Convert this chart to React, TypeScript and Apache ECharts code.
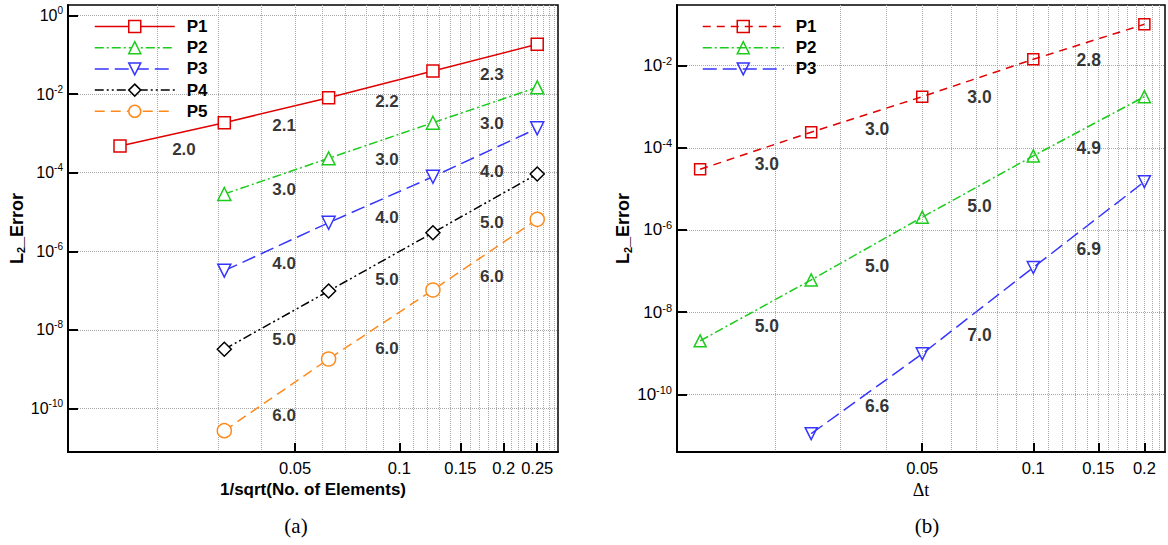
import React, { useEffect, useRef } from "react";
import * as echarts from "echarts";

const L = (v: number) => Math.log10(v);

// ---------------- panel (a) ----------------
const aX = [1 / 64, 1 / 32, 1 / 16, 1 / 8, 1 / 4];
const aP1 = [4.8e-4, 1.88e-3, 8.15e-3, 3.9e-2, 0.187];
const aP2 = [2.87e-5, 2.33e-4, 1.88e-3, 1.5e-2];
const aP3 = [3.2e-7, 5.33e-6, 7.9e-5, 1.35e-3];
const aP4 = [3.18e-9, 9.7e-8, 2.97e-6, 9.3e-5];
const aP5 = [2.69e-11, 1.8e-9, 1.03e-7, 6.5e-6];
const aLabelX = [0.0239, 0.0465, 0.0921, 0.185];
const aP1Slope = ["2.0", "2.1", "2.2", "2.3"];
const aP2Slope = ["3.0", "3.0", "3.0"];
const aP3Slope = ["4.0", "4.0", "4.0"];
const aP4Slope = ["5.0", "5.0", "5.0"];
const aP5Slope = ["6.0", "6.0", "6.0"];
const aP1SlopeY = [3.95e-4, 1.64e-3, 6.46e-3, 3.27e-2];
const aP2SlopeY = [3.8e-5, 2.2e-4, 1.75e-3];
const aP3SlopeY = [4.93e-7, 7.33e-6, 1.06e-4];
const aP4SlopeY = [5.71e-9, 1.93e-7, 5.33e-6];
const aP5SlopeY = [6.37e-11, 3.37e-9, 2.34e-7];
const aXRange = [0.01106, 0.287];
const aYRange = [7.7e-12, 1.873];
const aXMajor = [0.05, 0.1, 0.15, 0.2, 0.25];
const aXMinor = [0.02, 0.03, 0.04, 0.05, 0.06, 0.07, 0.08, 0.09, 0.1, 0.11, 0.12, 0.13, 0.14, 0.15, 0.16, 0.17, 0.18, 0.19, 0.2, 0.21, 0.22, 0.23, 0.24, 0.25, 0.26, 0.27, 0.28];
const aYExp = [-10, -8, -6, -4, -2, 0];

// ---------------- panel (b) ----------------
const bX = [0.0125, 0.025, 0.05, 0.1, 0.2];
const bP1 = [3.0e-5, 2.4e-4, 1.76e-3, 1.43e-2, 0.1016];
const bP2 = [2.0e-9, 6.1e-8, 2.05e-6, 6.35e-5, 1.76e-3];
const bP3 = [1.1e-11, 9.7e-10, 1.22e-7, 1.5e-5];
const bLabelX = [0.01895, 0.03774, 0.07145, 0.1413];
const bP1Slope = ["3.0", "3.0", "3.0", "2.8"];
const bP2Slope = ["5.0", "5.0", "5.0", "4.9"];
const bP3Slope = ["6.6", "7.0", "6.9"];
const bP1SlopeY = [3.99e-5, 2.84e-4, 1.76e-3, 1.38e-2];
const bP2SlopeY = [4.65e-9, 1.34e-7, 3.85e-6, 1.01e-4];
const bP3SlopeY = [5.05e-11, 2.81e-9, 3.41e-7];
const bXRange = [0.01082, 0.2275];
const bYRange = [3.94e-12, 0.2999];
const bXMajor = [0.05, 0.1, 0.15, 0.2];
const bXMinor = [0.02, 0.03, 0.04, 0.05, 0.06, 0.07, 0.08, 0.09, 0.1, 0.11, 0.12, 0.13, 0.14, 0.15, 0.16, 0.17, 0.18, 0.19, 0.2, 0.21, 0.22];
const bYExp = [-10, -8, -6, -4, -2];

const names = ["P1", "P2", "P3", "P4", "P5"];

const SANS = "'Liberation Sans', Arial, Helvetica, sans-serif";
const SERIF = "'Liberation Serif', 'Times New Roman', serif";

const RED = "#e00000";
const GREEN = "#1ccc1c";
const BLUE = "#3535ff";
const BLACK = "#000000";
const ORANGE = "#ff8a1c";

function xAxes(grid: number, range: number[], major: number[], minor: number[], name: string, nameStyle: any, nameGap: number) {
  return [
    {
      type: "value",
      gridIndex: grid,
      min: L(range[0]),
      max: L(range[1]),
      name,
      nameLocation: "middle",
      nameGap,
      nameTextStyle: nameStyle,
      axisLine: { show: true, onZero: false, lineStyle: { color: "#000", width: 2 } },
      axisTick: { show: true, inside: true, length: 9, customValues: major.map(L), lineStyle: { color: "#000", width: 2 } },
      axisLabel: {
        show: true,
        customValues: major.map(L),
        margin: 7,
        color: "#000",
        fontSize: 16.5,
        fontFamily: SANS,
        formatter: (v: number) => String(+Math.pow(10, v).toPrecision(2)),
      },
      splitLine: { show: false },
    },
    {
      type: "value",
      gridIndex: grid,
      min: L(range[0]),
      max: L(range[1]),
      position: "bottom",
      axisLine: { show: false, onZero: false },
      axisTick: { show: false, customValues: minor.map(L) },
      axisLabel: { show: false },
      splitLine: { show: true, lineStyle: { type: "dotted", color: "#a8a8a8", width: 1 } },
    },
  ];
}

function yAxis(grid: number, range: number[], exps: number[], labelSize: number, supSize: number, nameGap: number) {
  return {
    type: "value",
    gridIndex: grid,
    min: L(range[0]),
    max: L(range[1]),
    name: "{n|L}{sub|2}{n|_Error}",
    nameLocation: "middle",
    nameGap,
    nameTextStyle: {
      rich: {
        n: { fontSize: 18, fontWeight: "bold", fontFamily: SANS, color: "#000", lineHeight: 20 },
        sub: { fontSize: 11, fontWeight: "bold", fontFamily: SANS, color: "#000", lineHeight: 11, verticalAlign: "bottom" },
      },
    },
    axisLine: { show: true, onZero: false, lineStyle: { color: "#000", width: 2 } },
    axisTick: { show: true, inside: true, length: 10, customValues: exps, lineStyle: { color: "#000", width: 2 } },
    axisLabel: {
      show: true,
      customValues: exps,
      margin: 5,
      formatter: (v: number) => `{b|10}{s|${Math.round(v)}}`,
      rich: {
        b: { fontSize: labelSize, fontFamily: SANS, color: "#000", lineHeight: 20 },
        s: { fontSize: supSize, fontFamily: SANS, color: "#000", lineHeight: supSize, verticalAlign: "top" },
      },
    },
    splitLine: { show: true, lineStyle: { type: "dotted", color: "#a8a8a8", width: 1 } },
  };
}

function lineSeries(name: string, xi: number, yi: number, xs: number[], ys: number[], color: string, dash: any, symbol: string, size: number, rotate: number, fill: string) {
  return {
    type: "line",
    name,
    xAxisIndex: xi,
    yAxisIndex: yi,
    data: ys.map((y, i) => [L(xs[i]), L(y)]),
    symbol,
    symbolSize: size,
    symbolRotate: rotate,
    showSymbol: true,
    showAllSymbol: true,
    lineStyle: { color, width: 1.5, type: dash },
    itemStyle: { color: fill, borderColor: color, borderWidth: 1.5 },
    emphasis: { disabled: true },
    z: 3,
  };
}

function slopeSeries(xi: number, yi: number, xs: number[], ys: number[], texts: string[], fontSize: number) {
  return {
    type: "scatter",
    xAxisIndex: xi,
    yAxisIndex: yi,
    silent: true,
    symbol: "circle",
    symbolSize: 1,
    itemStyle: { color: "rgba(0,0,0,0)" },
    data: ys.map((y, i) => ({ name: texts[i], value: [L(xs[i]), L(y)] })),
    label: {
      show: true,
      position: "inside",
      formatter: "{b}",
      color: "#000",
      fontWeight: "bold",
      fontSize,
      fontFamily: SANS,
    },
    z: 4,
  };
}

const axisNameBold = { fontSize: 17, fontWeight: "bold", fontFamily: SANS, color: "#000" };
const axisNameSerif = { fontSize: 18, fontWeight: "normal", fontFamily: SERIF, color: "#000" };

const WHITE = "#ffffff";
const CLEAR = "rgba(0,0,0,0)";

const legendText = { fontSize: 17, fontWeight: "bold", fontFamily: SANS, color: "#000", lineHeight: 15, padding: [0, 0, 0, 7] };

const option: any = {
  animation: false,
  backgroundColor: "#ffffff",
  grid: [
    { left: 68, top: 5, width: 490, height: 447, show: true, borderColor: "#000", borderWidth: 1.5, backgroundColor: "transparent", outerBoundsMode: "none" },
    { left: 677, top: 5, width: 488, height: 447, show: true, borderColor: "#000", borderWidth: 1.5, backgroundColor: "transparent", outerBoundsMode: "none" },
  ],
  xAxis: [
    ...xAxes(0, aXRange, aXMajor, aXMinor, "1/sqrt(No. of Elements)", axisNameBold, 25),
    ...xAxes(1, bXRange, bXMajor, bXMinor, "\u0394t", axisNameSerif, 22),
  ],
  yAxis: [yAxis(0, aYRange, aYExp, 16, 10, 40), yAxis(1, bYRange, bYExp, 17, 11, 41)],
  legend: [
    {
      left: 94,
      top: 18,
      orient: "vertical",
      padding: 0,
      itemWidth: 80,
      itemHeight: 15,
      itemGap: 4.2,
      data: names,
      textStyle: legendText,
      lineStyle: { width: 1.5 },
      itemStyle: { borderWidth: 1.5 },
      selectedMode: false,
    },
    {
      left: 702,
      top: 18,
      orient: "vertical",
      padding: 0,
      itemWidth: 81,
      itemHeight: 15,
      itemGap: 4.2,
      data: names.slice(0, 3).map((n) => "b:" + n),
      formatter: (n: string) => n.replace("b:", ""),
      textStyle: legendText,
      lineStyle: { width: 1.5 },
      itemStyle: { borderWidth: 1.5 },
      selectedMode: false,
    },
  ],
  graphic: [
    { type: "text", x: 296, y: 526, style: { text: "(a)", fontSize: 21, fontFamily: SERIF, fill: "#000", align: "center", verticalAlign: "middle" } },
    { type: "text", x: 927, y: 526, style: { text: "(b)", fontSize: 21, fontFamily: SERIF, fill: "#000", align: "center", verticalAlign: "middle" } },
  ],
  series: [
    lineSeries("P1", 0, 0, aX, aP1, RED, "solid", "rect", 12, 0, WHITE),
    lineSeries("P2", 0, 0, aX.slice(1), aP2, GREEN, [9, 3, 2, 3], "triangle", 13, 0, WHITE),
    lineSeries("P3", 0, 0, aX.slice(1), aP3, BLUE, [14, 6], "triangle", 13, 180, WHITE),
    lineSeries("P4", 0, 0, aX.slice(1), aP4, BLACK, [9, 3, 2, 3, 2, 3], "diamond", 14, 0, WHITE),
    lineSeries("P5", 0, 0, aX.slice(1), aP5, ORANGE, [10, 6], "circle", 14, 0, WHITE),
    slopeSeries(0, 0, aLabelX, aP1SlopeY, aP1Slope, 17),
    slopeSeries(0, 0, aLabelX.slice(1), aP2SlopeY, aP2Slope, 17),
    slopeSeries(0, 0, aLabelX.slice(1), aP3SlopeY, aP3Slope, 17),
    slopeSeries(0, 0, aLabelX.slice(1), aP4SlopeY, aP4Slope, 17),
    slopeSeries(0, 0, aLabelX.slice(1), aP5SlopeY, aP5Slope, 17),

    lineSeries("b:P1", 2, 1, bX, bP1, RED, [8, 6], "rect", 11, 0, CLEAR),
    lineSeries("b:P2", 2, 1, bX, bP2, GREEN, [9, 3, 2, 3], "triangle", 12, 0, CLEAR),
    lineSeries("b:P3", 2, 1, bX.slice(1), bP3, BLUE, [14, 6], "triangle", 12, 180, CLEAR),
    slopeSeries(2, 1, bLabelX, bP1SlopeY, bP1Slope, 17.5),
    slopeSeries(2, 1, bLabelX, bP2SlopeY, bP2Slope, 17.5),
    slopeSeries(2, 1, bLabelX.slice(1), bP3SlopeY, bP3Slope, 17.5),
  ],
};

export default function App() {
  const ref = useRef<HTMLDivElement>(null);
  useEffect(() => {
    const chart = echarts.init(ref.current as HTMLDivElement, null, { renderer: "svg" });
    chart.setOption(option);
    return () => chart.dispose();
  }, []);
  return (
    <div
      ref={ref}
      style={{ position: "fixed", left: 0, top: 0, width: 1168, height: 545, background: "#fff" }}
    />
  );
}
